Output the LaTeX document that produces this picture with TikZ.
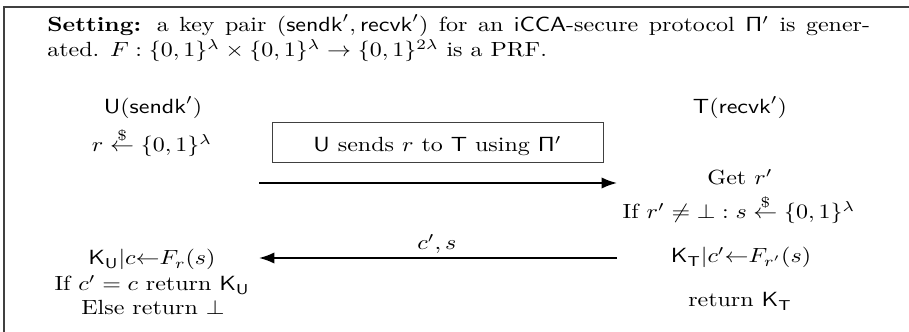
\documentclass[tikz,border=0pt]{standalone}
\usepackage{amsmath}
\usetikzlibrary{arrows.meta}
\tikzset{
  txt/.style={inner sep=0pt, anchor=base},
  msg/.style={line width=0.85pt, -{Latex[length=7.5pt,width=5.5pt]}},
  sendbox/.style={draw=black!75, line width=0.45pt, inner sep=0pt},
  frameline/.style={draw=black!75, line width=0.6pt}
}
\newcommand{\sampr}{\stackrel{\$}{\leftarrow}}
\newcommand{\hs}[1]{\scalebox{1.17}[1]{#1}}
\begin{document}
\begin{tikzpicture}[x=0.4878pt, y=-0.4878pt]
\useasboundingbox (0,0) rectangle (909,332);
% frame
\coordinate (ftr) at (909,7);
\coordinate (ftl) at (4,7);
\coordinate (fbl) at (4,332);
\draw[frameline] (ftr) -- (ftl) -- (fbl);
% setting paragraph
\node[inner sep=0pt, anchor=base west] (setting) at (47,32)
 {\hs{\begin{minipage}[t]{343pt}\textbf{Setting:} a key pair $(\mathsf{sendk}', \mathsf{recvk}')$ for an $\mathsf{iCCA}$-secure protocol $\mathsf{\Pi}'$ is gener-\linebreak ated. $F:\{0,1\}^\lambda\times\{0,1\}^\lambda\to\{0,1\}^{2\lambda}$ is a PRF.\end{minipage}}};
% parties
\node[txt] (U) at (153,114) {\hs{$\mathsf{U}(\mathsf{sendk}')$}};
\node[txt] (T) at (740,114) {\hs{$\mathsf{T}(\mathsf{recvk}')$}};
\node[txt] (rsamp) at (152,152) {\hs{$r \sampr \{0,1\}^\lambda$}};
% box
\node[sendbox, minimum width=331*0.4878pt, minimum height=40*0.4878pt] (box) at (437.5,142) {};
\node[txt] (boxtxt) at (437.5,151.5) {\hs{$\mathsf{U}$ sends $r$ to $\mathsf{T}$ using $\mathsf{\Pi}'$}};
% arrows
\coordinate (a1s) at (259,183);
\coordinate (a1e) at (617,183);
\draw[msg] (a1s) -- (a1e);
\coordinate (a2s) at (617,258);
\coordinate (a2e) at (259,258);
\draw[msg] (a2s) -- (a2e);
\node[txt] (lab2) at (437,250) {\hs{$c', s$}};
% right side
\node[txt] (get) at (740,185) {\hs{Get $r'$}};
\node[txt] (ifr) at (739,219) {\hs{If $r' \neq \bot : s \sampr \{0,1\}^\lambda$}};
\node[txt] (kt) at (741,263) {\hs{$\mathsf{K}_\mathsf{T}|c'{\leftarrow}F_{r'}(s)$}};
\node[txt] (rett) at (740,307) {\hs{return $\mathsf{K}_\mathsf{T}$}};
% left side
\node[txt] (ku) at (152,265) {\hs{$\mathsf{K}_\mathsf{U}|c{\leftarrow}F_r(s)$}};
\node[txt] (ifc) at (152,291) {\hs{If $c' = c$ return $\mathsf{K}_\mathsf{U}$}};
\node[txt] (els) at (153,315) {\hs{Else return $\bot$}};
\end{tikzpicture}
\end{document}
